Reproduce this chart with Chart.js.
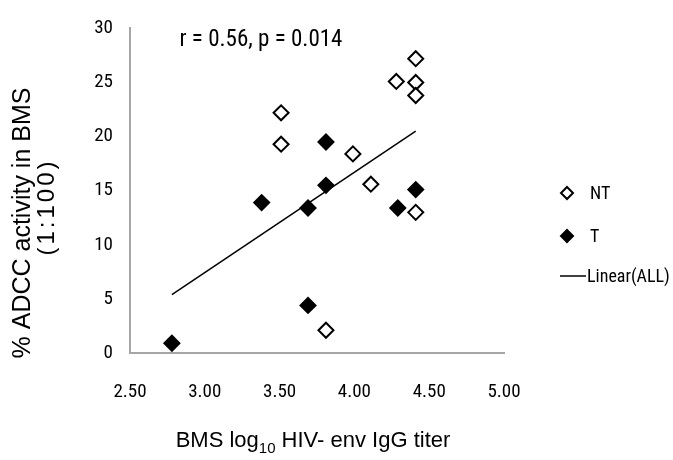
<!DOCTYPE html>
<html lang="en">
<head>
    <meta charset="UTF-8">
    <title>ADCC vs IgG titer</title>
    <style>
        html, body { margin: 0; padding: 0; background: #fff; }
        #wrap { width: 673px; height: 460px; }
    </style>
</head>
<body>
    <div id="wrap"><canvas id="myChart"></canvas></div>
    <script src="https://cdn.jsdelivr.net/npm/chart.js"></script>
    <script>
        // data
        var ntX = [3.51, 3.51, 3.99, 4.11, 4.41, 4.28, 4.41, 4.41, 4.41, 3.81];
        var ntY = [22.2, 19.3, 18.4, 15.6, 27.2, 25.1, 25.0, 23.8, 13.0, 2.1];
        var tX = [3.81, 3.81, 4.41, 3.38, 3.69, 4.29, 3.69, 2.78];
        var tY = [19.5, 15.5, 15.1, 13.9, 13.4, 13.4, 4.4, 0.9];
        var trendX = [2.78, 4.41];
        var trendY = [5.4, 20.5];
        var xTicks = [2.5, 3.0, 3.5, 4.0, 4.5, 5.0];
        var yTicks = [0, 5, 10, 15, 20, 25, 30];

        var narrow = "'Liberation Sans Narrow', 'Roboto Condensed', Arial, sans-serif";
        var sans = "'Liberation Sans', Arial, sans-serif";

        function pts(xs, ys) {
            return xs.map(function (x, i) { return {x: x, y: ys[i]}; });
        }

        // extra texts: annotation, axis titles, legend
        var extras = {
            id: 'extras',
            afterDraw: function (chart) {
                var ctx = chart.ctx;
                ctx.save();
                ctx.fillStyle = '#000';

                // correlation text
                ctx.font = '23px ' + narrow;
                ctx.textAlign = 'center';
                ctx.textBaseline = 'middle';
                ctx.fillText('r = 0.56, p = 0.014', 261, 40);

                // x title with subscript
                ctx.font = '22px ' + sans;
                var a = 'BMS log', sub = '10', b = ' HIV- env IgG titer';
                var wa = ctx.measureText(a).width;
                var wb = ctx.measureText(b).width;
                ctx.font = '15px ' + sans;
                var ws = ctx.measureText(sub).width;
                var x0 = 313 - (wa + ws + wb) / 2;
                ctx.textAlign = 'left';
                ctx.textBaseline = 'alphabetic';
                ctx.font = '22px ' + sans;
                ctx.fillText(a, x0, 447);
                ctx.font = '15px ' + sans;
                ctx.fillText(sub, x0 + wa, 453);
                ctx.font = '22px ' + sans;
                ctx.fillText(b, x0 + wa + ws, 447);

                // y title, two lines
                ctx.save();
                ctx.translate(23, 223);
                ctx.rotate(-Math.PI / 2);
                ctx.textAlign = 'center';
                ctx.textBaseline = 'middle';
                ctx.font = '25px ' + sans;
                ctx.fillText('% ADCC activity in BMS', 0, 0);
                ctx.restore();
                ctx.save();
                ctx.translate(47, 207);
                ctx.rotate(-Math.PI / 2);
                ctx.textAlign = 'center';
                ctx.textBaseline = 'middle';
                ctx.font = '24px ' + sans;
                ctx.letterSpacing = '3px';
                ctx.fillText('(1:100)', 0, 0);
                ctx.restore();

                // legend
                var ds = chart.data.datasets;
                ctx.font = '18px ' + narrow;
                ctx.textAlign = 'left';
                ctx.textBaseline = 'middle';
                var rows = [193, 236];
                for (var i = 0; i < 2; i++) {
                    ctx.fillStyle = ds[i].pointBackgroundColor;
                    ctx.strokeStyle = '#000';
                    ctx.lineWidth = 2;
                    ctx.beginPath();
                    ctx.moveTo(567, rows[i] - 6);
                    ctx.lineTo(573, rows[i]);
                    ctx.lineTo(567, rows[i] + 6);
                    ctx.lineTo(561, rows[i]);
                    ctx.closePath();
                    ctx.fill();
                    ctx.stroke();
                    ctx.fillStyle = '#000';
                    ctx.fillText(ds[i].label, 590, rows[i] + 1);
                }
                ctx.strokeStyle = '#000';
                ctx.lineWidth = 1.5;
                ctx.beginPath();
                ctx.moveTo(560, 276);
                ctx.lineTo(586, 276);
                ctx.stroke();
                ctx.fillText(ds[2].label, 587, 277);
                ctx.restore();
            }
        };

        var ctx = document.getElementById('myChart').getContext('2d');
        var myChart = new Chart(ctx, {
            type: 'scatter',
            data: {
                datasets: [{
                    label: 'NT',
                    data: pts(ntX, ntY),
                    pointStyle: 'rectRot',
                    pointRadius: 7.5,
                    pointBackgroundColor: '#ffffff',
                    pointBorderColor: '#000000',
                    pointBorderWidth: 2
                }, {
                    label: 'T',
                    data: pts(tX, tY),
                    pointStyle: 'rectRot',
                    pointRadius: 7.5,
                    pointBackgroundColor: '#000000',
                    pointBorderColor: '#000000',
                    pointBorderWidth: 2
                }, {
                    label: 'Linear(ALL)',
                    type: 'line',
                    data: pts(trendX, trendY),
                    borderColor: '#000000',
                    borderWidth: 1.5,
                    pointRadius: 0,
                    fill: false
                }]
            },
            options: {
                responsive: true,
                maintainAspectRatio: false,
                animation: false,
                layout: { padding: { top: 17, right: 169, bottom: 0, left: 0 } },
                plugins: {
                    legend: { display: false },
                    tooltip: { enabled: false }
                },
                scales: {
                    x: {
                        type: 'linear',
                        min: 2.5,
                        max: 5,
                        afterFit: function (s) { s.height = 107; },
                        afterBuildTicks: function (s) {
                            s.ticks = xTicks.map(function (v) { return {value: v}; });
                        },
                        grid: { display: false, drawTicks: false, tickLength: 0 },
                        border: { display: true, color: '#a6a6a6', width: 2 },
                        ticks: {
                            padding: 28,
                            color: '#000',
                            font: { family: narrow, size: 19 },
                            callback: function (v) { return Number(v).toFixed(2); }
                        }
                    },
                    y: {
                        min: 0,
                        max: 30,
                        afterFit: function (s) { s.width = 130; },
                        afterBuildTicks: function (s) {
                            s.ticks = yTicks.map(function (v) { return {value: v}; });
                        },
                        grid: { display: false, drawTicks: false, tickLength: 0 },
                        border: { display: true, color: '#a6a6a6', width: 2 },
                        ticks: {
                            padding: 17,
                            color: '#000',
                            font: { family: narrow, size: 19 }
                        }
                    }
                }
            },
            plugins: [extras]
        });
    </script>
</body>
</html>
